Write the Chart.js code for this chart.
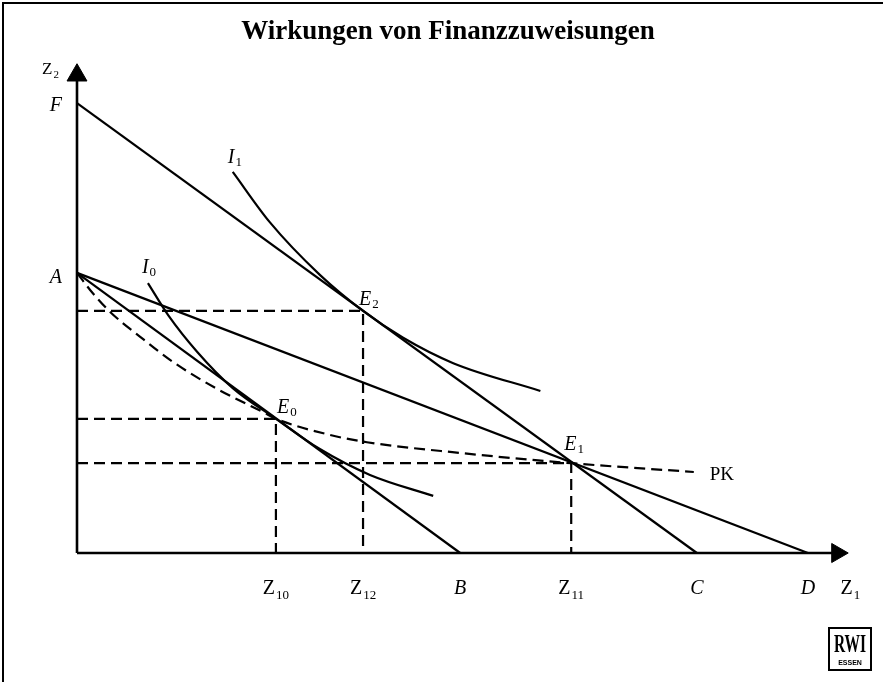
<!DOCTYPE html>
<html>
<head>
<meta charset="utf-8">
<script src="https://cdn.jsdelivr.net/npm/chart.js@4/dist/chart.umd.min.js"></script>
<style>
  html, body { margin: 0; padding: 0; background: #fff; }
  #wrap { width: 883px; height: 682px; position: relative; }
</style>
</head>
<body>
<div id="wrap"><canvas id="c" width="883" height="682"></canvas></div>
<script>
// ---------- data (abstract units: Z1 on x, Z2 on y) ----------
const TITLE = 'Wirkungen von Finanzzuweisungen';

// budget lines (intercepts)
const lineFC_x = [0, 80.4];
const lineFC_y = [92.2, 0];
const lineAB_x = [0, 49.7];
const lineAB_y = [57.4, 0];
const lineAD_x = [0, 94.8];
const lineAD_y = [57.4, 0];

// indifference curves
const I0_x = [9.2, 11.8, 15.6, 20.2, 25.8, 31.5, 38.0, 46.2];
const I0_y = [55.3, 48.8, 41.2, 33.8, 27.5, 21.3, 16.0, 11.7];
const I1_x = [20.2, 25.0, 31.5, 37.1, 42.3, 48.8, 60.1];
const I1_y = [78.1, 67.8, 57.0, 49.6, 44.1, 38.9, 33.2];

// price-consumption curve PK (dashed)
const PK_x = [0, 1.7, 4.3, 8.2, 12.5, 18.2, 24.1, 25.8, 32.8, 37.6, 49.7, 64.1, 80.0];
const PK_y = [57.4, 53.9, 49.4, 44.3, 39.1, 33.6, 28.9, 27.5, 24.2, 22.7, 20.5, 18.4, 16.6];

// equilibria
const eqNames = ['E0', 'E2', 'E1'];
const eq_x = [25.8, 37.1, 64.1];
const eq_y = [27.5, 49.6, 18.4];

// x-axis tick labels (main letter + subscript)
const xTickMain = ['Z', 'Z', 'B', 'Z', 'C', 'D', 'Z'];
const xTickSub  = ['10', '12', '', '11', '', '', '1'];
const xTickVals = [25.8, 37.1, 49.7, 64.1, 80.4, 94.8, 100.3];
const xTickItalic = [false, false, true, false, true, true, false];

// axis extents
const axisX_end = 98.6;
const axisY_end = 97.9;

// ---------- helpers ----------
const zip = (xs, ys) => xs.map((x, i) => ({ x, y: ys[i] }));
const SERIF = '"Liberation Serif", "Times New Roman", serif';
const BLACK = '#000';

const solid = (data, extra) => Object.assign({
  data, showLine: true, borderColor: BLACK, borderWidth: 2.2,
  pointRadius: 0, fill: false, clip: false
}, extra || {});
const dashed = (data, extra) => solid(data, Object.assign({ borderDash: [11, 6] }, extra || {}));

const guides = eq_x.map((x, i) => dashed([{ x: 0, y: eq_y[i] }, { x, y: eq_y[i] }, { x, y: 0 }]));

const datasets = [
  solid([{ x: 0, y: 0 }, { x: 0, y: axisY_end }], { borderWidth: 2.6 }),
  solid([{ x: 0, y: 0 }, { x: axisX_end, y: 0 }], { borderWidth: 2.6 }),
  { data: [{ x: 0, y: axisY_end }], showLine: false, pointStyle: 'triangle', pointRadius: 11.5,
    rotation: 0, backgroundColor: BLACK, borderColor: BLACK, borderWidth: 1, clip: false },
  { data: [{ x: axisX_end, y: 0 }], showLine: false, pointStyle: 'triangle', pointRadius: 11,
    rotation: 90, backgroundColor: BLACK, borderColor: BLACK, borderWidth: 1, clip: false },
  ...guides,
  dashed(zip(PK_x, PK_y), { cubicInterpolationMode: 'monotone' }),
  solid(zip(lineFC_x, lineFC_y)),
  solid(zip(lineAB_x, lineAB_y)),
  solid(zip(lineAD_x, lineAD_y)),
  solid(zip(I0_x, I0_y), { cubicInterpolationMode: 'monotone' }),
  solid(zip(I1_x, I1_y), { cubicInterpolationMode: 'monotone' })
];

// draw "main" + subscript; align: 'left' | 'center' | 'right'
function drawSub(ctx, main, sub, x, y, size, italic, align, subSize, subDy) {
  const mf = (italic ? 'italic ' : '') + size + 'px ' + SERIF;
  const sf = subSize + 'px ' + SERIF;
  ctx.font = mf; const mw = ctx.measureText(main).width;
  ctx.font = sf; const sw = sub ? ctx.measureText(sub).width + 1 : 0;
  const tw = mw + sw;
  let x0 = x;
  if (align === 'center') x0 = x - tw / 2;
  else if (align === 'right') x0 = x - tw;
  ctx.textAlign = 'left';
  ctx.textBaseline = 'alphabetic';
  ctx.fillStyle = BLACK;
  ctx.font = mf; ctx.fillText(main, x0, y);
  if (sub) { ctx.font = sf; ctx.fillText(sub, x0 + mw + 1, y + subDy); }
}

const annot = {
  id: 'annot',
  beforeDraw(chart) {
    const ctx = chart.ctx;
    ctx.save();
    ctx.fillStyle = '#fff';
    ctx.fillRect(0, 0, chart.width, chart.height);
    ctx.strokeStyle = BLACK; ctx.lineWidth = 2;
    ctx.beginPath();
    ctx.moveTo(3, chart.height); ctx.lineTo(3, 3); ctx.lineTo(chart.width, 3);
    ctx.stroke();
    ctx.restore();
  },
  afterDatasetsDraw(chart) {
    const ctx = chart.ctx, xs = chart.scales.x, ys = chart.scales.y;
    const px = v => xs.getPixelForValue(v), py = v => ys.getPixelForValue(v);
    ctx.save();
    // title
    ctx.fillStyle = BLACK;
    ctx.font = 'bold 27px ' + SERIF;
    ctx.textAlign = 'center'; ctx.textBaseline = 'alphabetic';
    ctx.fillText(TITLE, 448, 39);

    // axis name Z2
    drawSub(ctx, 'Z', '2', px(0) - 35, py(axisY_end) - 1, 17, false, 'left', 11, 4);
    // intercept letters
    drawSub(ctx, 'F', '', px(0) - 15, py(lineFC_y[0]) + 8, 20, true, 'right', 12, 4);
    drawSub(ctx, 'A', '', px(0) - 15, py(lineAB_y[0]) + 10, 20, true, 'right', 12, 4);
    // curve names
    drawSub(ctx, 'I', '0', px(I0_x[0]) - 6, py(I0_y[0]) - 10, 20, true, 'left', 13, 3);
    drawSub(ctx, 'I', '1', px(I1_x[0]) - 5, py(I1_y[0]) - 9, 20, true, 'left', 13, 3);
    drawSub(ctx, 'PK', '', px(PK_x[PK_x.length - 1]) + 16, py(PK_y[PK_y.length - 1]) + 8, 19, false, 'left', 12, 3);
    // equilibria
    const eqOff = [[1, -6], [-4, -6], [-7, -13]];
    eqNames.forEach((n, i) => {
      drawSub(ctx, 'E', n.slice(1), px(eq_x[i]) + eqOff[i][0], py(eq_y[i]) + eqOff[i][1], 20, true, 'left', 13, 3);
    });
    // x-axis tick labels
    xTickMain.forEach((m, i) => {
      drawSub(ctx, m, xTickSub[i], px(xTickVals[i]), py(0) + 41, 20, xTickItalic[i], 'center', 13, 5);
    });

    // RWI logo
    ctx.lineWidth = 2; ctx.strokeStyle = BLACK;
    ctx.strokeRect(829, 628, 42, 42);
    ctx.save();
    ctx.translate(850, 652);
    ctx.scale(0.62, 1);
    ctx.font = 'bold 25px ' + SERIF;
    ctx.textAlign = 'center';
    ctx.fillText('RWI', 0, 0);
    ctx.restore();
    ctx.font = 'bold 7px "Liberation Sans", Arial, sans-serif';
    ctx.textAlign = 'center';
    ctx.fillText('ESSEN', 850, 665);
    ctx.restore();
  }
};

new Chart(document.getElementById('c'), {
  type: 'scatter',
  data: { datasets },
  options: {
    responsive: false,
    animation: false,
    events: [],
    layout: { padding: { left: 77, right: 35, top: 65, bottom: 129 } },
    scales: {
      x: { type: 'linear', min: 0, max: 100, display: false },
      y: { type: 'linear', min: 0, max: 100, display: false }
    },
    plugins: { legend: { display: false }, tooltip: { enabled: false }, title: { display: false } }
  },
  plugins: [annot]
});
</script>
</body>
</html>
